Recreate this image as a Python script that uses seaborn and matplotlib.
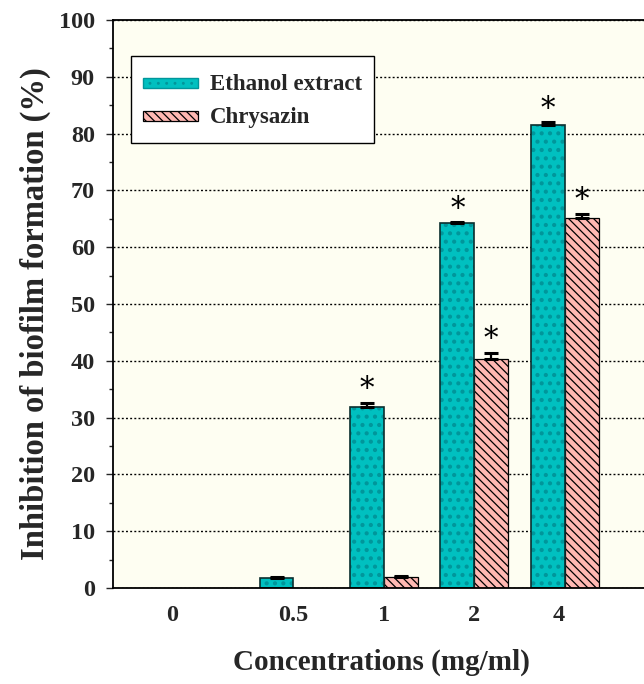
import numpy as np
import pandas as pd
import matplotlib
matplotlib.use("Agg")
import matplotlib.pyplot as plt
from matplotlib.patches import Patch, Rectangle
from matplotlib.legend_handler import HandlerPatch
import seaborn as sns

# ---- data ----
concentrations = ["0", "0.5", "1", "2", "4"]
ethanol = [0.0, 1.7, 31.8, 64.2, 81.6]
ethanol_err = [0.0, 0.2, 0.8, 0.2, 0.4]
chrysazin = [0.0, 0.0, 2.0, 40.4, 65.2]
chrysazin_err = [0.0, 0.0, 0.2, 1.0, 0.7]
ethanol_sig = [False, False, True, True, True]
chrysazin_sig = [False, False, False, True, True]
series_names = ["Ethanol extract", "Chrysazin"]

df = pd.DataFrame({
    "conc": concentrations * 2,
    "value": ethanol + chrysazin,
    "series": [series_names[0]] * len(concentrations) + [series_names[1]] * len(concentrations),
})

sns.set_style("ticks")
plt.rcParams["font.family"] = ["Liberation Serif", "DejaVu Serif"]
plt.rcParams["font.weight"] = "bold"
plt.rcParams["hatch.linewidth"] = 0.9

teal = "#00C0C0"
teal_dot = "#00969b"
pink = "#FFB8B2"

fig = plt.figure(figsize=(6.44, 6.84), dpi=100)
ax = fig.add_axes([113 / 644, 1 - 588 / 684, (646 - 113) / 644, (588 - 20) / 684])
ax.set_facecolor("#FEFEF2")

sns.barplot(data=df, x="conc", y="value", hue="series", order=concentrations,
            hue_order=series_names, palette=[teal, pink], width=0.75,
            edgecolor="black", linewidth=1.0, errorbar=None, legend=False,
            saturation=1, ax=ax, zorder=2)

eth_bars = ax.containers[0]
chr_bars = ax.containers[1]


def dotted_overlay(bb, z):
    with plt.rc_context({"hatch.linewidth": 1.8}):
        r = Rectangle((bb.x0, bb.y0), bb.width, bb.height, fill=False,
                      edgecolor=teal_dot, linewidth=0, hatch="..", zorder=z)
    if hasattr(r, "set_hatch_linewidth"):
        r.set_hatch_linewidth(1.8)
    return r


for p, v in zip(eth_bars, ethanol):
    if v == 0:
        p.set_visible(False)
        continue
    p.set_linewidth(0)
    bb = p.get_bbox()
    ax.add_patch(dotted_overlay(bb, 2.2))
    ax.add_patch(Rectangle((bb.x0, bb.y0), bb.width, bb.height, fill=False,
                           edgecolor="#0b2f2f", linewidth=1.2, zorder=2.5))
for p, v in zip(chr_bars, chrysazin):
    if v == 0:
        p.set_visible(False)
        continue
    p.set_hatch("\\\\\\\\")
    p.set_edgecolor("black")
    p.set_linewidth(0.9)

# error bars (upper only) and significance stars
for bars, vals, errs, sig in [(eth_bars, ethanol, ethanol_err, ethanol_sig),
                              (chr_bars, chrysazin, chrysazin_err, chrysazin_sig)]:
    for p, v, e, s in zip(bars, vals, errs, sig):
        if v == 0:
            continue
        xc = p.get_x() + p.get_width() / 2
        ax.errorbar(xc, v, yerr=[[0], [e]], fmt="none", ecolor="black",
                    elinewidth=1.6, capsize=4.8, capthick=2.2, zorder=3)
        if s:
            ax.annotate("*", xy=(xc, v + e), xytext=(0, 4), textcoords="offset points",
                        ha="center", va="baseline", fontsize=21, fontweight="normal",
                        family="DejaVu Serif", color="black", zorder=4)

# axes styling
ax.set_ylim(0, 100)
ax.set_xlim(-0.997, 4.9)
ax.set_yticks(np.arange(0, 101, 10))
ax.set_yticks(np.arange(5, 100, 10), minor=True)
ax.yaxis.grid(True, which="major", color="black", linestyle=(0, (1.4, 1.6)), linewidth=1.0)
ax.set_axisbelow(True)
ax.tick_params(axis="y", which="major", direction="out", length=5, width=1.0,
               labelsize=17.5, pad=8)
ax.tick_params(axis="y", which="minor", direction="out", length=3, width=1.0)
label_shift = [-0.34, 0.0, 0.0, 0.0, -0.06]
ax.set_xticks([i + s for i, s in enumerate(label_shift)])
ax.set_xticklabels(concentrations)
ax.tick_params(axis="x", length=0, labelsize=17.5, pad=12)
for lab in ax.get_xticklabels() + ax.get_yticklabels():
    lab.set_fontweight("bold")
for sp in ax.spines.values():
    sp.set_visible(True)
    sp.set_color("black")
    sp.set_linewidth(1.3)

ax.set_xlabel("Concentrations (mg/ml)", fontsize=21, fontweight="bold")
ax.set_ylabel("Inhibition of biofilm formation (%)", fontsize=23.5, fontweight="bold")
ax.xaxis.set_label_coords(0.504, -0.107)
ax.yaxis.set_label_coords(-0.116, 0.483)


def slim_patch(legend, orig_handle, xdescent, ydescent, width, height, fontsize):
    h = 10.0 * 72 / fig.dpi
    return Rectangle((-xdescent, -ydescent + (height - h) / 2), width, h)


with plt.rc_context({"hatch.linewidth": 1.8}):
    h_eth = Patch(facecolor=teal, edgecolor=teal_dot, hatch="..", linewidth=1)
if hasattr(h_eth, "set_hatch_linewidth"):
    h_eth.set_hatch_linewidth(1.8)
handles = [h_eth,
           Patch(facecolor=pink, edgecolor="black", hatch="\\\\\\\\", linewidth=0.9)]
leg = ax.legend(handles, series_names, loc="upper left", bbox_to_anchor=(0.034, 0.937),
                borderaxespad=0, handlelength=2.4, handleheight=1.7,
                handletextpad=0.55, labelspacing=0.1, borderpad=0.5,
                frameon=True, fancybox=False, framealpha=1, edgecolor="black",
                prop={"weight": "bold", "size": 16.5},
                handler_map={Patch: HandlerPatch(patch_func=slim_patch)})
leg.get_frame().set_linewidth(1.0)

fig.savefig("out.png", dpi=100, facecolor="white")
